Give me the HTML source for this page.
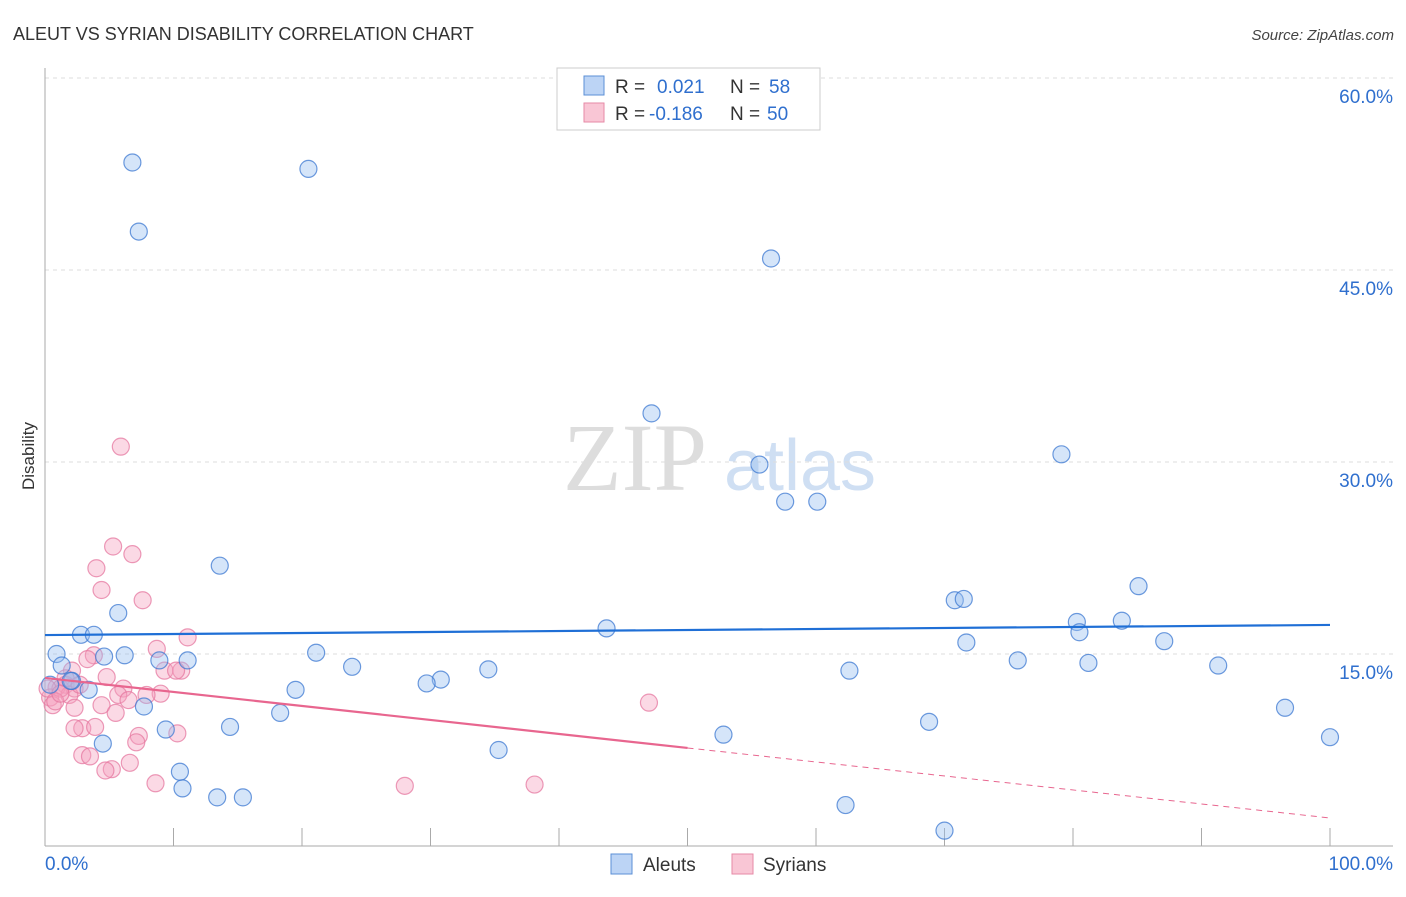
<!DOCTYPE html>
<html><head><meta charset="utf-8">
<style>
body{margin:0;background:#fff;font-family:"Liberation Sans",sans-serif;}
svg text{font-family:"Liberation Sans",sans-serif;}
svg text.serif{font-family:"Liberation Serif",serif;}
</style></head>
<body>
<svg id="chart" width="1406" height="892">
<text x="13" y="40" font-size="18" fill="#333">ALEUT VS SYRIAN DISABILITY CORRELATION CHART</text>
<text x="1394" y="40" font-size="15" fill="#444" font-style="italic" text-anchor="end">Source: ZipAtlas.com</text>
<text x="34" y="456" font-size="17" fill="#333" transform="rotate(-90 34 456)" text-anchor="middle">Disability</text>
<g><text class="serif" x="635" y="490" font-size="96" fill="#ddd" text-anchor="middle">ZIP</text><text x="800" y="490" font-size="72" fill="#cfdff3" text-anchor="middle">atlas</text></g>
<g id="grid"></g><g id="axes"></g><g id="pts"></g><g id="trend"></g>
<g>
<rect x="557" y="68" width="263" height="62" fill="#fff" stroke="#ccc"/>
<rect x="584" y="76" width="20" height="19" fill="#bcd4f5" stroke="#5b8fd6"/>
<rect x="584" y="103" width="20" height="19" fill="#f9c6d5" stroke="#e68aa6"/>
<text x="615" y="93" font-size="19" fill="#333">R =</text><text x="657" y="93" font-size="19" fill="#2f6fce">0.021</text>
<text x="730" y="93" font-size="19" fill="#333">N =</text><text x="769" y="93" font-size="19" fill="#2f6fce">58</text>
<text x="615" y="120" font-size="19" fill="#333">R =</text><text x="649" y="120" font-size="19" fill="#2f6fce">-0.186</text>
<text x="730" y="120" font-size="19" fill="#333">N =</text><text x="767" y="120" font-size="19" fill="#2f6fce">50</text>
</g>
<g>
<rect x="611" y="854" width="21" height="20" fill="#bcd4f5" stroke="#5b8fd6"/>
<text x="643" y="871" font-size="19" fill="#333">Aleuts</text>
<rect x="732" y="854" width="21" height="20" fill="#f9c6d5" stroke="#e68aa6"/>
<text x="763" y="871" font-size="19" fill="#333">Syrians</text>
</g>
</svg>
<script>
const yTicks=[15,30,45,60];
const xTickLabels=["0.0%","100.0%"];
const aleutX=[6.8,20.5,7.3,56.5,47.2,55.6,79.1,57.6,60.1,13.6,85.1,70.8,71.5,5.7,43.7,80.3,83.8,2.8,3.8,80.5,71.7,87.1,21.1,0.9,6.2,4.6,8.9,11.1,1.3,23.9,75.7,81.2,91.3,34.5,62.6,2.1,3.4,19.5,30.8,29.7,7.7,18.3,96.5,68.8,14.4,9.4,52.8,100,4.5,35.3,10.5,10.7,13.4,15.4,62.3,70,0.4,2.0];
const aleutY=[53.4,52.9,48.0,45.9,33.8,29.8,30.6,26.9,26.9,21.9,20.3,19.2,19.3,18.2,17.0,17.5,17.6,16.5,16.5,16.7,15.9,16.0,15.1,15.0,14.9,14.8,14.5,14.5,14.1,14.0,14.5,14.3,14.1,13.8,13.7,12.9,12.2,12.2,13.0,12.7,10.9,10.4,10.8,9.7,9.3,9.1,8.7,8.5,8.0,7.5,5.8,4.5,3.8,3.8,3.2,1.2,12.6,12.9];
const syrX=[5.9,5.3,6.8,4.0,4.4,7.6,11.1,8.7,3.8,3.3,9.3,10.6,10.2,2.1,4.8,1.6,0.9,2.3,6.1,5.7,1.9,9.0,7.9,6.5,0.4,0.6,4.4,2.3,5.5,47,10.3,2.9,2.3,3.9,7.3,7.1,2.9,3.5,6.6,5.2,4.7,8.6,28.0,38.1,1.2,0.2,1.6,2.7,0.8,1.2];
const syrY=[31.2,23.4,22.8,21.7,20.0,19.2,16.3,15.4,14.9,14.6,13.7,13.7,13.7,13.7,13.2,12.6,12.4,12.3,12.3,11.8,11.8,11.9,11.8,11.4,11.6,11.0,11.0,10.8,10.4,11.2,8.8,9.2,9.2,9.3,8.6,8.1,7.1,7.0,6.5,6.0,5.9,4.9,4.7,4.8,12.3,12.3,13.1,12.6,11.3,11.9];
const aleutTrend=[16.48,17.27];
const syrTrend=[13.13,2.19];
const NS="http://www.w3.org/2000/svg";
const X=v=>45+v*12.85, Y=v=>846-v*12.8;
function mk(tag,attrs,parent){const e=document.createElementNS(NS,tag);for(const k in attrs)e.setAttribute(k,attrs[k]);parent.appendChild(e);return e;}
const grid=document.getElementById('grid'),axes=document.getElementById('axes'),pts=document.getElementById('pts'),tr=document.getElementById('trend');
yTicks.forEach(t=>{
 const l=mk('line',{x1:45,x2:1393,y1:Y(t),y2:Y(t),stroke:'#ddd','stroke-dasharray':'4,4'},grid);
 
 
 const tx=mk('text',{x:1393,y:Y(t)+25,'font-size':19,fill:'#2f6fce','text-anchor':'end'},grid);tx.textContent=t.toFixed(1)+'%';
 
 
});
mk('line',{x1:45,x2:45,y1:68,y2:846,stroke:'#aaa'},axes);
mk('line',{x1:45,x2:1393,y1:846,y2:846,stroke:'#aaa'},axes);
for(let i=1;i<=10;i++){mk('line',{x1:X(i*10),x2:X(i*10),y1:828,y2:846,stroke:'#aaa'},axes);}
const xl0=mk('text',{x:45,y:870,'font-size':19,fill:'#2f6fce'},axes);xl0.textContent=xTickLabels[0];


const xl1=mk('text',{x:1393,y:870,'font-size':19,fill:'#2f6fce','text-anchor':'end'},axes);xl1.textContent=xTickLabels[1];


syrX.forEach((v,i)=>{const c=mk('circle',{cx:X(v),cy:Y(syrY[i]),r:8.5,fill:'rgba(245,160,190,0.4)',stroke:'rgba(230,120,160,0.75)','stroke-width':1.2},pts);
 
 });
aleutX.forEach((v,i)=>{const c=mk('circle',{cx:X(v),cy:Y(aleutY[i]),r:8.5,fill:'rgba(150,190,240,0.4)',stroke:'rgba(60,120,210,0.75)','stroke-width':1.2},pts);
 
 });
const bl=mk('line',{x1:X(0),x2:X(100),y1:Y(aleutTrend[0]),y2:Y(aleutTrend[1]),stroke:'#1f6fd6','stroke-width':2.2},tr);


const mid=syrTrend[0]+(syrTrend[1]-syrTrend[0])*0.5;
const pl=mk('line',{x1:X(0),x2:X(50),y1:Y(syrTrend[0]),y2:Y(mid),stroke:'#e8668f','stroke-width':2.2},tr);


const pd=mk('line',{x1:X(50),x2:X(100),y1:Y(mid),y2:Y(syrTrend[1]),stroke:'#e8668f','stroke-width':1,'stroke-dasharray':'6,5'},tr);


</script>
</body></html>
